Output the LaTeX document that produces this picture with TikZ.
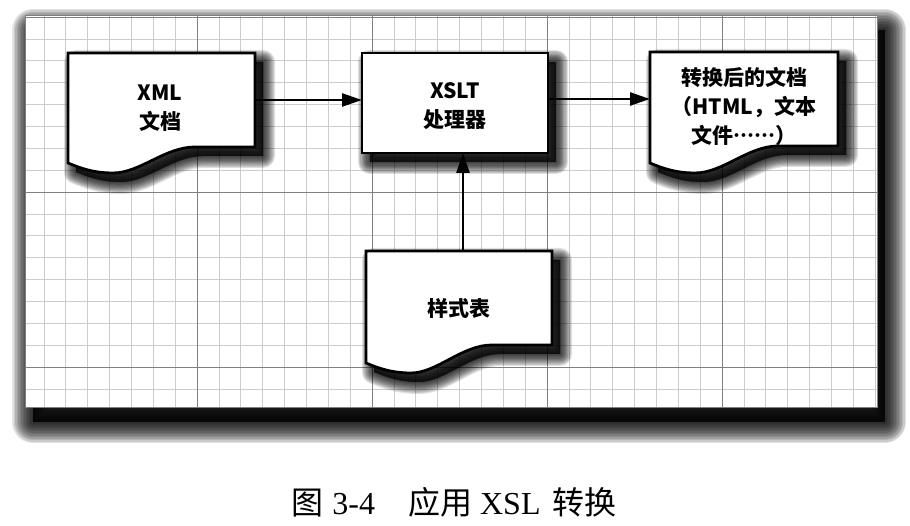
\documentclass[tikz,border=0pt]{standalone}
\usepackage{fontspec}
\setmainfont{Liberation Serif}
\newfontfamily\cjk[Script=CJK,Language=Chinese Simplified]{Noto Sans CJK SC}
\usetikzlibrary{arrows.meta}
% document shape: L T R Br Bl style
\newcommand\docpath[6]{%
  \path[#6] (#1,#2) -- (#3,#2) -- (#3,#4) -- ({#3-60},#4)
    .. controls ({#3-90},#4) and ({#3-115},{#5+10}) .. ({#1+45},{#5+10})
    .. controls ({#1+25},{#5+10}) and ({#1+12},{#5+5}) .. (#1,#5) -- cycle;}
\newcommand\rectpath[5]{\path[#5] (#1,#2) rectangle (#3,#4);}
\newcommand\docshape[5]{%
  \foreach \k in {1,...,10}{\docpath{#1}{#2}{#3}{#4}{#5}{boxshadow, line width={2.4*\k pt}}}
  \docpath{#1}{#2}{#3}{#4}{#5}{docbox}}
\begin{document}
\begin{tikzpicture}[x=1pt,y=-1pt,
  docbox/.style={draw=black, line width=2.8pt, fill=white, line join=miter},
  boxshadow/.style={draw=black, fill=black, opacity=0.12, line join=round, shift={(8,9)}},
  panelshadow/.style={draw=black, fill=black, opacity=0.11, line join=round, shift={(8,15)}},
  area/.style={rectangle, inner sep=0pt, outer sep=0pt},
  lbl/.style={font=\cjk\bfseries\fontsize{21}{29}\selectfont, align=center, inner sep=0pt},
  conn/.style={line width=2.5pt, -{Triangle[length=20pt,width=13pt]}},
  minorline/.style={black!20, line width=0.6pt},
  majorline/.style={black!50, line width=0.9pt}]
\useasboundingbox (0,0) rectangle (910,526);
\fill[white] (0,0) rectangle (910,526);
% panel with soft shadow
\foreach \k in {1,...,14}{\rectpath{25}{15}{877}{407}{panelshadow, line width={3*\k pt}}}
\fill[white] (25,15) rectangle (877,407);
\begin{scope}
  \clip (25,15) rectangle (877,407);
  \foreach \i in {-1,...,40} {\draw[minorline] ({22+\i*21.875},15) -- ({22+\i*21.875},407);}
  \foreach \j in {-1,...,18} {\draw[minorline] (25,{17+\j*21.875}) -- (877,{17+\j*21.875});}
  \foreach \i in {0,...,5} {\draw[majorline] ({22+\i*175},15) -- ({22+\i*175},407);}
  \foreach \j in {0,...,2} {\draw[majorline] (25,{17+\j*175}) -- (877,{17+\j*175});}
\end{scope}
\draw[black!50, line width=0.8pt] (25,15) rectangle (877,407);
% node areas
\node[area, minimum width=187pt, minimum height=94pt] (xml) at (161.5,100) {};
\node[area, minimum width=186pt, minimum height=100pt] (xslt) at (455,103) {};
\node[area, minimum width=188pt, minimum height=94pt] (out) at (744,99) {};
\node[area, minimum width=186pt, minimum height=94pt] (sheet) at (459,298) {};
% shapes
\docshape{68}{53}{255}{147}{163}
\foreach \k in {1,...,10}{\rectpath{362}{53}{548}{153}{boxshadow, line width={2.4*\k pt}}}
\rectpath{362}{53}{548}{153}{docbox}
\docshape{650}{52}{838}{146}{163}
\docshape{366}{251}{552}{345}{363}
% texts
\node[lbl] (xmltext) at (160,108) {XML\\文档};
\node[lbl] (xslttext) at (455,106) {XSLT\\处理器};
\node[lbl] (outtext) at (744,106) {转换后的文档\\（HTML，文本\\文件……）};
\node[lbl] (sheettext) at (459,308) {样式表};
% connectors
\coordinate (s1) at (463,251);
\draw[conn] (xml.east) -- (xml.east -| xslt.west);
\draw[conn] (out.west -| xslt.east) -- (out.west);
\draw[conn] (s1) -- (s1 |- xslt.south);
% caption
\node[font=\fontsize{32}{36}\selectfont, inner sep=0pt] (cap) at (454,502) {{\cjk 图}\hspace{9pt}3-4\hspace{33pt}{\cjk 应用}\hspace{8pt}XSL\hspace{12pt}{\cjk 转换}};
\end{tikzpicture}
\end{document}
